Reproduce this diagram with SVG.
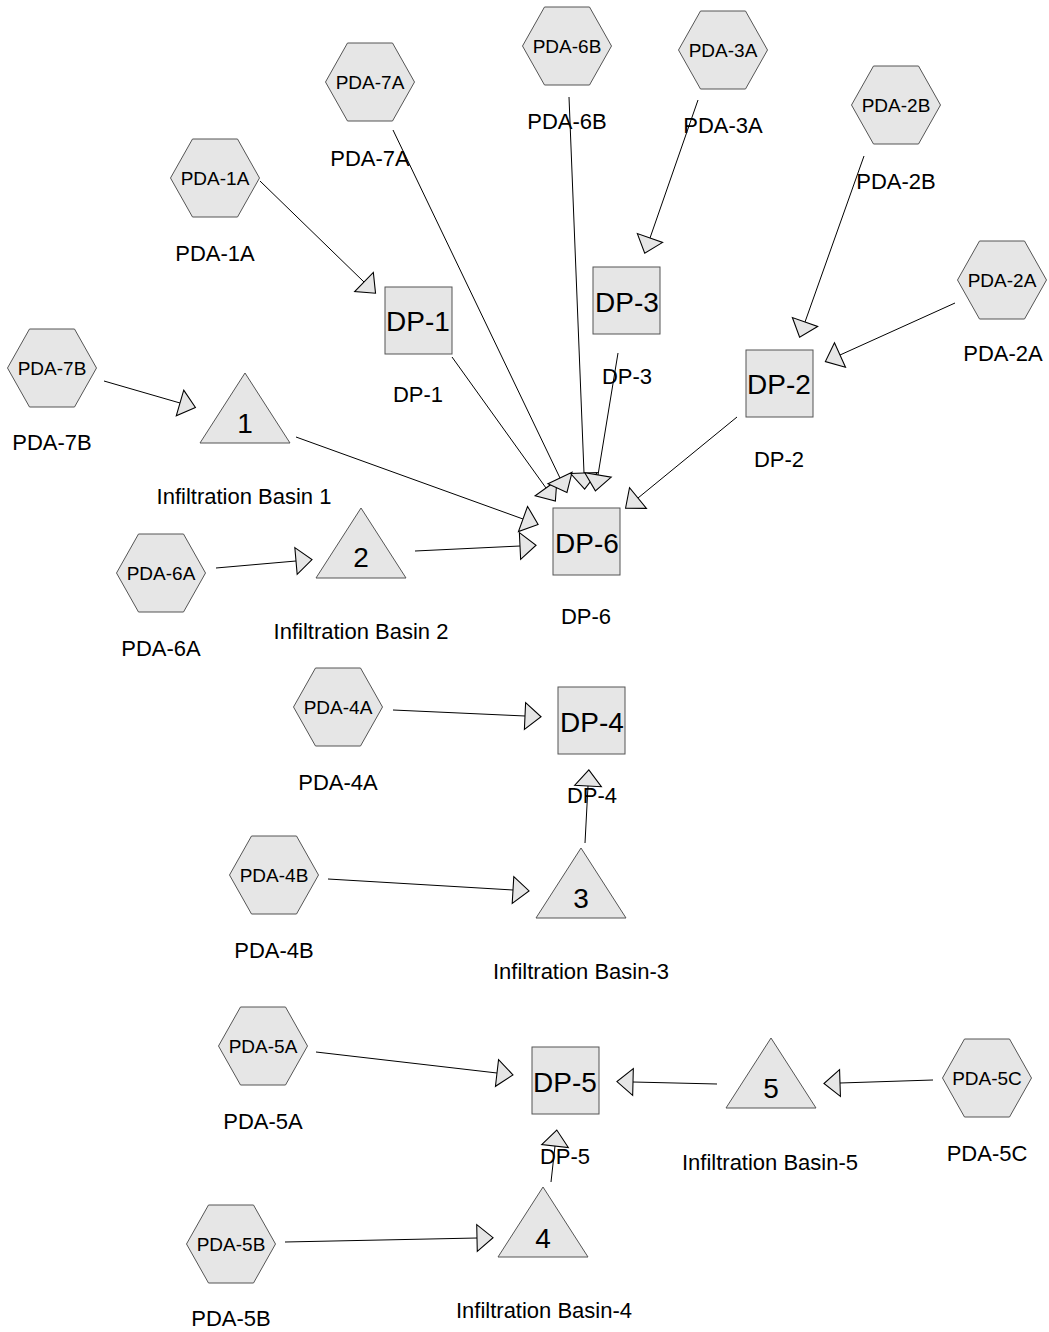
<svg xmlns="http://www.w3.org/2000/svg" width="1049" height="1332" viewBox="0 0 1049 1332">
<style>
.shape{fill:#e6e6e6;stroke:#555;stroke-width:1}
.in{font-family:"Liberation Sans",Arial,sans-serif;font-size:19px;fill:#000;text-anchor:middle}
.dp{font-family:"Liberation Sans",Arial,sans-serif;font-size:28px;fill:#000;text-anchor:middle}
.lbl{font-family:"Liberation Sans",Arial,sans-serif;font-size:22px;fill:#000;text-anchor:middle}
.edge{stroke:#000;stroke-width:1;fill:none;marker-end:url(#arr)}
</style>
<defs>
<marker id="arr" markerUnits="userSpaceOnUse" markerWidth="20" markerHeight="30" viewBox="-1 -14 18 28" refX="0" refY="0" orient="auto">
<path d="M0,-12.5 L15,0 L0,12.5 Z" fill="#e6e6e6" stroke="#000" stroke-width="1"/>
</marker>
<polygon id="hex" points="-44.5,0 -22.5,-39 22.5,-39 44.5,0 22.5,39 -22.5,39"/>
<polygon id="tri" points="0,-35 45,35 -45,35"/>
</defs>
<g id="connectors">
<line class="edge" x1="260" y1="181" x2="364" y2="282"/>
<line class="edge" x1="452" y1="357" x2="546" y2="488"/>
<line class="edge" x1="393" y1="130" x2="560" y2="478"/>
<line class="edge" x1="569" y1="97" x2="584" y2="473"/>
<line class="edge" x1="618" y1="353" x2="598" y2="475"/>
<line class="edge" x1="737" y1="417" x2="638" y2="498"/>
<line class="edge" x1="296" y1="437" x2="523" y2="519"/>
<line class="edge" x1="415" y1="551" x2="520" y2="546"/>
<line class="edge" x1="698" y1="100" x2="650" y2="238"/>
<line class="edge" x1="864" y1="156" x2="805" y2="322"/>
<line class="edge" x1="955" y1="303" x2="840" y2="355"/>
<line class="edge" x1="104" y1="381" x2="180" y2="403"/>
<line class="edge" x1="216" y1="568" x2="296" y2="561"/>
<line class="edge" x1="393" y1="710" x2="525" y2="716"/>
<line class="edge" x1="328" y1="879" x2="513" y2="890"/>
<line class="edge" x1="585" y1="843" x2="588" y2="786"/>
<line class="edge" x1="316" y1="1052" x2="497" y2="1073"/>
<line class="edge" x1="717" y1="1084" x2="633" y2="1082"/>
<line class="edge" x1="933" y1="1080" x2="840" y2="1083"/>
<line class="edge" x1="285" y1="1242" x2="477" y2="1238"/>
<line class="edge" x1="551" y1="1182" x2="555" y2="1146"/>
</g>
<g id="PDA-7A"><use href="#hex" class="shape" x="370" y="82"/><text class="in" x="370" y="89">PDA-7A</text><text class="lbl" x="370" y="166">PDA-7A</text></g>
<g id="PDA-6B"><use href="#hex" class="shape" x="567" y="46"/><text class="in" x="567" y="53">PDA-6B</text><text class="lbl" x="567" y="129">PDA-6B</text></g>
<g id="PDA-3A"><use href="#hex" class="shape" x="723" y="50"/><text class="in" x="723" y="57">PDA-3A</text><text class="lbl" x="723" y="133">PDA-3A</text></g>
<g id="PDA-2B"><use href="#hex" class="shape" x="896" y="105"/><text class="in" x="896" y="112">PDA-2B</text><text class="lbl" x="896" y="189">PDA-2B</text></g>
<g id="PDA-1A"><use href="#hex" class="shape" x="215" y="178"/><text class="in" x="215" y="185">PDA-1A</text><text class="lbl" x="215" y="261">PDA-1A</text></g>
<g id="PDA-2A"><use href="#hex" class="shape" x="1002" y="280"/><text class="in" x="1002" y="287">PDA-2A</text><text class="lbl" x="1003" y="361">PDA-2A</text></g>
<g id="PDA-7B"><use href="#hex" class="shape" x="52" y="368"/><text class="in" x="52" y="375">PDA-7B</text><text class="lbl" x="52" y="450">PDA-7B</text></g>
<g id="PDA-6A"><use href="#hex" class="shape" x="161" y="573"/><text class="in" x="161" y="580">PDA-6A</text><text class="lbl" x="161" y="656">PDA-6A</text></g>
<g id="PDA-4A"><use href="#hex" class="shape" x="338" y="707"/><text class="in" x="338" y="714">PDA-4A</text><text class="lbl" x="338" y="790">PDA-4A</text></g>
<g id="PDA-4B"><use href="#hex" class="shape" x="274" y="875"/><text class="in" x="274" y="882">PDA-4B</text><text class="lbl" x="274" y="958">PDA-4B</text></g>
<g id="PDA-5A"><use href="#hex" class="shape" x="263" y="1046"/><text class="in" x="263" y="1053">PDA-5A</text><text class="lbl" x="263" y="1129">PDA-5A</text></g>
<g id="PDA-5C"><use href="#hex" class="shape" x="987" y="1078"/><text class="in" x="987" y="1085">PDA-5C</text><text class="lbl" x="987" y="1161">PDA-5C</text></g>
<g id="PDA-5B"><use href="#hex" class="shape" x="231" y="1244"/><text class="in" x="231" y="1251">PDA-5B</text><text class="lbl" x="231" y="1326">PDA-5B</text></g>
<g id="DP-1"><rect class="shape" x="385" y="287" width="67" height="67"/><text class="dp" x="418" y="331">DP-1</text><text class="lbl" x="418" y="402">DP-1</text></g>
<g id="DP-3"><rect class="shape" x="593" y="267" width="67" height="67"/><text class="dp" x="627" y="312">DP-3</text><text class="lbl" x="627" y="384">DP-3</text></g>
<g id="DP-2"><rect class="shape" x="746" y="350" width="67" height="67"/><text class="dp" x="779" y="394">DP-2</text><text class="lbl" x="779" y="467">DP-2</text></g>
<g id="DP-6"><rect class="shape" x="553" y="508" width="67" height="67"/><text class="dp" x="587" y="553">DP-6</text><text class="lbl" x="586" y="624">DP-6</text></g>
<g id="DP-4"><rect class="shape" x="558" y="687" width="67" height="67"/><text class="dp" x="592" y="732">DP-4</text><text class="lbl" x="592" y="803">DP-4</text></g>
<g id="DP-5"><rect class="shape" x="532" y="1047" width="67" height="67"/><text class="dp" x="565" y="1092">DP-5</text><text class="lbl" x="565" y="1164">DP-5</text></g>
<g id="IB-1"><use href="#tri" class="shape" x="245" y="408"/><text class="dp" x="245" y="433">1</text><text class="lbl" x="244" y="504">Infiltration Basin 1</text></g>
<g id="IB-2"><use href="#tri" class="shape" x="361" y="543"/><text class="dp" x="361" y="567">2</text><text class="lbl" x="361" y="639">Infiltration Basin 2</text></g>
<g id="IB-3"><use href="#tri" class="shape" x="581" y="883"/><text class="dp" x="581" y="908">3</text><text class="lbl" x="581" y="979">Infiltration Basin-3</text></g>
<g id="IB-4"><use href="#tri" class="shape" x="543" y="1222"/><text class="dp" x="543" y="1248">4</text><text class="lbl" x="544" y="1318">Infiltration Basin-4</text></g>
<g id="IB-5"><use href="#tri" class="shape" x="771" y="1073"/><text class="dp" x="771" y="1098">5</text><text class="lbl" x="770" y="1170">Infiltration Basin-5</text></g>
</svg>
